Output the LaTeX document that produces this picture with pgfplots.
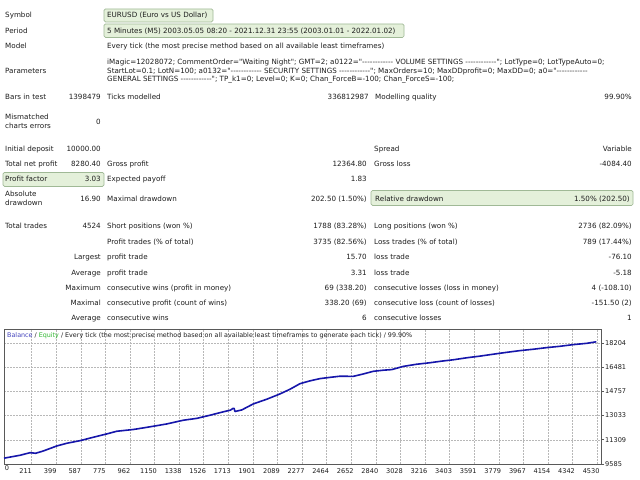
\documentclass[border=0pt]{standalone}
\usepackage{pgfplots}
\pgfplotsset{compat=1.18}
\usepackage{fontspec}
\setmainfont{DejaVu Sans}[Ligatures=TeXOff]
\definecolor{txt}{RGB}{30,30,30}
\definecolor{boxfill}{RGB}{228,240,218}
\definecolor{boxdraw}{RGB}{160,185,150}
\definecolor{balblue}{RGB}{22,22,170}
\definecolor{titleblue}{RGB}{70,70,190}
\definecolor{titlegreen}{RGB}{50,185,50}
\newcommand\tf{\fontsize{7.2pt}{9pt}\selectfont}
\newcommand\Lt[3]{\node[anchor=base west,inner sep=0pt,text=txt,font=\tf] at (#1,{477.5-#2}) {#3};}
\newcommand\Rt[3]{\node[anchor=base east,inner sep=0pt,text=txt,font=\tf] at (#1,{477.5-#2}) {#3};}
\newcommand\Bx[4]{\filldraw[fill=boxfill,draw=boxdraw,line width=0.7bp,rounded corners=1.5bp] (#1,{480-#2}) rectangle (#3,{480-#4});}
\begin{document}
\begin{tikzpicture}[x=1bp,y=1bp]
\fill[white] (0,0) rectangle (640,480);
\useasboundingbox (0,0) rectangle (640,480);
% boxes
\Bx{104}{9}{213}{22}
\Bx{104}{24}{404}{37.5}
\Bx{3}{172.5}{104}{186.5}
\Bx{371}{190.5}{633}{205.5}
% rows
\Lt{5}{15.5}{Symbol}
\Lt{107}{15.5}{EURUSD (Euro vs US Dollar)}
\Lt{5}{31}{Period}
\Lt{107}{31}{5 Minutes (M5) 2003.05.05 08:20 - 2021.12.31 23:55 (2003.01.01 - 2022.01.02)}
\Lt{5}{46}{Model}
\Lt{107}{46}{Every tick (the most precise method based on all available least timeframes)}
\Lt{5}{70.7}{Parameters}
\Lt{107}{61.7}{iMagic=12028072; CommentOrder="Waiting Night"; GMT=2; a0122="------------ VOLUME SETTINGS ------------"; LotType=0; LotTypeAuto=0;}
\Lt{107}{70.7}{StartLot=0.1; LotN=100; a0132="------------ SECURITY SETTINGS ------------"; MaxOrders=10; MaxDDprofit=0; MaxDD=0; a0="------------}
\Lt{107}{79.5}{GENERAL SETTINGS ------------"; TP\_k1=0; Level=0; K=0; Chan\_ForceB=-100; Chan\_ForceS=-100;}
\Lt{5}{97}{Bars in test}
\Rt{101}{97}{1398479}
\Lt{107}{97}{Ticks modelled}
\Rt{369}{97}{336812987}
\Lt{375}{97}{Modelling quality}
\Rt{632}{97}{99.90\%}
\Lt{5}{117.5}{Mismatched}
\Lt{5}{126.5}{charts errors}
\Rt{101}{122}{0}
\Lt{5}{149}{Initial deposit}
\Rt{101}{149}{10000.00}
\Lt{374}{149}{Spread}
\Rt{632}{149}{Variable}
\Lt{5}{164}{Total net profit}
\Rt{101}{164}{8280.40}
\Lt{107}{164}{Gross profit}
\Rt{367}{164}{12364.80}
\Lt{374}{164}{Gross loss}
\Rt{632}{164}{-4084.40}
\Lt{5}{179.5}{Profit factor}
\Rt{101}{179.5}{3.03}
\Lt{107}{179.5}{Expected payoff}
\Rt{367}{179.5}{1.83}
\Lt{5}{194}{Absolute}
\Lt{5}{203.5}{drawdown}
\Rt{101}{199}{16.90}
\Lt{107}{199}{Maximal drawdown}
\Rt{367}{199}{202.50 (1.50\%)}
\Lt{375}{199}{Relative drawdown}
\Rt{630}{199}{1.50\% (202.50)}
\Lt{5}{226.5}{Total trades}
\Rt{101}{226.5}{4524}
\Lt{107}{226.5}{Short positions (won \%)}
\Rt{367}{226.5}{1788 (83.28\%)}
\Lt{374}{226.5}{Long positions (won \%)}
\Rt{632}{226.5}{2736 (82.09\%)}
\Lt{107}{242}{Profit trades (\% of total)}
\Rt{367}{242}{3735 (82.56\%)}
\Lt{374}{242}{Loss trades (\% of total)}
\Rt{632}{242}{789 (17.44\%)}
\Rt{101}{257.5}{Largest}
\Lt{107}{257.5}{profit trade}
\Rt{367}{257.5}{15.70}
\Lt{374}{257.5}{loss trade}
\Rt{632}{257.5}{-76.10}
\Rt{101}{273}{Average}
\Lt{107}{273}{profit trade}
\Rt{367}{273}{3.31}
\Lt{374}{273}{loss trade}
\Rt{632}{273}{-5.18}
\Rt{101}{288}{Maximum}
\Lt{107}{288}{consecutive wins (profit in money)}
\Rt{367}{288}{69 (338.20)}
\Lt{374}{288}{consecutive losses (loss in money)}
\Rt{632}{288}{4 (-108.10)}
\Rt{101}{303}{Maximal}
\Lt{107}{303}{consecutive profit (count of wins)}
\Rt{367}{303}{338.20 (69)}
\Lt{374}{303}{consecutive loss (count of losses)}
\Rt{632}{303}{-151.50 (2)}
\Rt{101}{318}{Average}
\Lt{107}{318}{consecutive wins}
\Rt{367}{318}{6}
\Lt{374}{318}{consecutive losses}
\Rt{632}{318}{1}
% chart
\begin{axis}[
  at={(4bp,16bp)}, anchor=south west,
  scale only axis, width=597bp, height=135bp,
  xmin=0, xmax=4560, ymin=9585, ymax=19190,
  scaled y ticks=false, scaled x ticks=false,
  axis line style={draw=black!65, line width=0.7bp},
  xtick={211,398.8,586.6,774.4,962.2,1150,1337.8,1525.6,1713.4,1901.2,2089,2276.8,2464.6,2652.4,2840.2,3028,3215.8,3403.6,3591.4,3779.2,3967,4154.8,4342.6,4530.4},
  xticklabels={211,399,587,775,962,1150,1338,1526,1713,1901,2089,2277,2464,2652,2840,3028,3216,3403,3591,3779,3967,4154,4342,4530},
  ytick={9585,11309,13033,14757,16481,18204},
  yticklabels={9585,11309,13033,14757,16481,18204},
  /pgf/number format/assume math mode=true,
  xtick pos=bottom, ytick pos=right, yticklabel pos=right,
  tick align=outside,
  x tick style={draw=none},
  y tick style={draw=black!65, line width=0.6bp},
  major tick length=3bp,
  xticklabel style={font=\fontsize{6.6pt}{7pt}\selectfont, text=txt, inner sep=0pt, anchor=north, xshift=-6bp, yshift=-1.2bp},
  yticklabel style={font=\fontsize{6.6pt}{7pt}\selectfont, text=txt, inner sep=0pt, anchor=west, xshift=1bp},
  grid=major,
  grid style={draw=black!28, line width=0.5bp, dash pattern=on 1.5bp off 1.5bp},
  clip=false,
]
\addplot[color=balblue, line width=1.6bp, line join=round] coordinates {
(0,10000) (60,10100) (122,10205) (199,10390) (242,10347) (300,10511)
(403,10867) (479,11059) (581,11245) (682,11487) (784,11722) (861,11914)
(988,12040) (1115,12230) (1243,12434) (1370,12700) (1472,12830) (1573,13054)
(1650,13239) (1730,13420) (1751,13550) (1758,13530) (1764,13320) (1816,13431)
(1904,13859) (2007,14194) (2108,14571) (2185,14906) (2261,15300) (2337,15500)
(2414,15660) (2500,15760) (2566,15830) (2668,15820) (2744,15990) (2821,16180)
(2900,16260) (2961,16300) (3050,16530) (3150,16680) (3254,16790) (3340,16900)
(3432,17000) (3540,17150) (3636,17260) (3740,17400) (3840,17530) (3940,17650)
(4043,17750) (4150,17870) (4247,17960) (4350,18080) (4451,18170) (4524,18280)
};
\node[anchor=north, inner sep=0pt, text=txt, font=\fontsize{6.6pt}{7pt}\selectfont, yshift=-1.2bp, xshift=3bp] at (axis cs:0,9585) {0};
\node[anchor=base west, inner sep=0pt, font=\fontsize{6.4pt}{7pt}\selectfont] at (rel axis cs:0,1) [xshift=3bp, yshift=-8.2bp] {\textcolor{titleblue}{Balance}\textcolor{txt}{\ /\ }\textcolor{titlegreen}{Equity}\textcolor{txt}{\ /\ Every tick (the most precise method based on all available least timeframes to generate each tick) / 99.90\%}};
\end{axis}
\end{tikzpicture}
\end{document}
